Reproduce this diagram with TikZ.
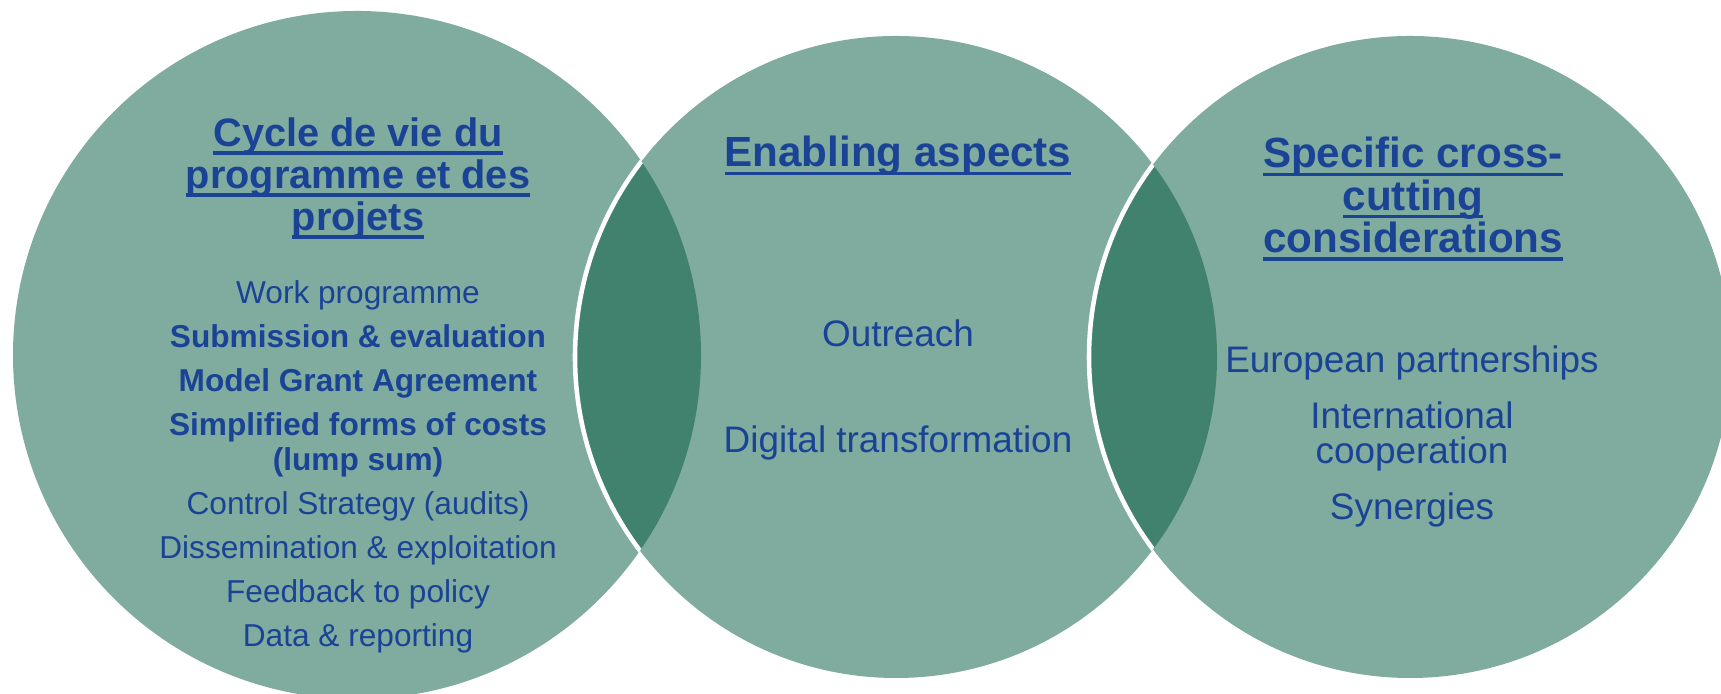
\documentclass[tikz,border=0pt]{standalone}
\usepackage{fontspec}
\setmainfont{Liberation Sans}
\newcommand{\ulhead}[1]{\setbox0\hbox{#1}\rlap{\rule[-2.4pt]{\wd0}{0.9pt}}\box0}
\definecolor{circlegreen}{HTML}{80AB9F}
\definecolor{lensgreen}{HTML}{41826F}
\definecolor{textblue}{HTML}{1A4396}
\begin{document}
\begin{tikzpicture}
  \useasboundingbox (0, 0) rectangle (17.21, 6.94);
  \clip (0, 0) rectangle (17.21, 6.94);
  \tikzset{
    title/.style = {text = textblue, align = center, font = \bfseries\fontsize{12}{12}\selectfont},
    item/.style = {text = textblue, align = center, font = \fontsize{10.5}{10.2}\selectfont}
  }
  \coordinate (lifecycle) at (3.57, 3.39);
  \coordinate (enabling) at (8.96, 3.37);
  \coordinate (crosscut) at (14.10, 3.37);

  % circles
  \fill [circlegreen] (lifecycle) circle (3.44);
  \fill [circlegreen] (enabling) circle (3.21);
  \fill [circlegreen] (crosscut) circle (3.21);

  % overlaps
  \begin{scope}
    \clip (lifecycle) circle (3.44);
    \fill [lensgreen] (enabling) circle (3.21);
    \draw [white, line width = 1.3pt] (enabling) circle (3.21);
  \end{scope}
  \begin{scope}
    \clip (enabling) circle (3.21);
    \fill [lensgreen] (crosscut) circle (3.21);
    \draw [white, line width = 1.3pt] (crosscut) circle (3.21);
  \end{scope}

  % texts
  \node (lifecycle_title) [title, font = \bfseries\fontsize{11.3}{11.95}\selectfont] at (3.58, 5.16) {\ulhead{Cycle de vie du}\\ \ulhead{programme et des}\\ \ulhead{projets}};
  \node (lifecycle_items) [item, font = \fontsize{9}{10}\selectfont] at (3.58, 2.27) {Work programme\\[2.5pt] \textbf{Submission \& evaluation}\\[2.5pt] \textbf{Model Grant Agreement}\\[2.5pt] \textbf{Simplified forms of costs}\\ \textbf{(lump sum)}\\[2.5pt] Control Strategy (audits)\\[2.5pt] Dissemination \& exploitation\\[2.5pt] Feedback to policy\\[2.5pt] Data \& reporting};

  \node (enabling_title) [title] at (8.98, 5.38) {\ulhead{Enabling aspects}};
  \node (outreach) [item] at (8.98, 3.61) {Outreach};
  \node (digital) [item] at (8.98, 2.51) {Digital transformation};

  \node (crosscut_title) [title] at (14.13, 4.95) {\ulhead{Specific cross-}\\ \ulhead{cutting}\\ \ulhead{considerations}};
  \node (crosscut_items) [item] at (14.12, 2.575) {European partnerships\\[5.7pt] International\\ cooperation\\[5.7pt] Synergies};
\end{tikzpicture}
\end{document}
